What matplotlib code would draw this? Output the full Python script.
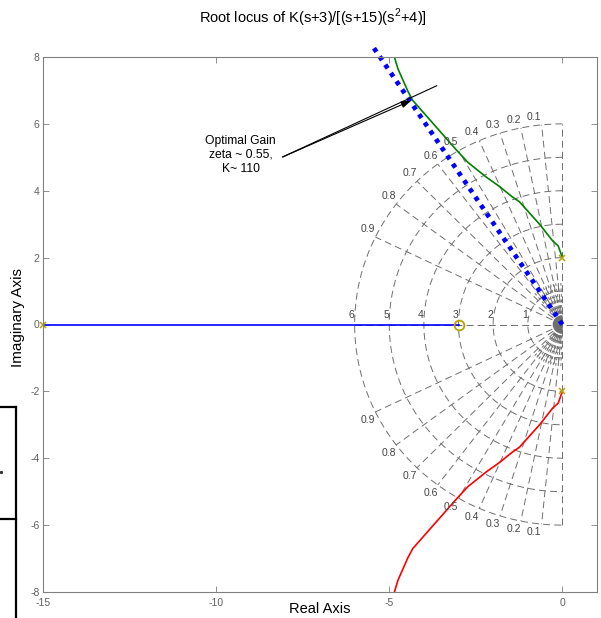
import numpy as np
import matplotlib.pyplot as plt
from matplotlib.lines import Line2D
from matplotlib.patches import Wedge

plt.rcParams['font.family'] = ['Liberation Sans', 'DejaVu Sans']
plt.rcParams['mathtext.fontset'] = 'custom'
plt.rcParams['mathtext.rm'] = 'Liberation Sans'
plt.rcParams['lines.scale_dashes'] = False
plt.rcParams['axes.unicode_minus'] = False

# open-loop poles / zeros
pole_re = [-15, 0, 0]
pole_im = [0, 2, -2]
zero_re = [-3]
zero_im = [0]

# real-axis branch (pole -15 -> zero -3)
real_re = [-15, -3]
real_im = [0, 0]

# complex branch leaving +2j (the -2j branch is its mirror image)
branch_re = [0.0, -0.12, -0.28, -0.66, -1.24, -1.45, -1.82, -2.20, -2.73, -3.07, -4.32, -4.46, -4.75, -4.88]
branch_im = [2.0, 2.35, 2.50, 3.00, 3.67, 3.82, 4.13, 4.41, 4.85, 5.23, 6.70, 6.97, 7.65, 8.10]

# s-plane grid
zeta_vals = [0.1, 0.2, 0.3, 0.4, 0.5, 0.6, 0.7, 0.8, 0.9]
wn_vals = [1, 2, 3, 4, 5, 6]
opt_zeta = 0.55

x_ticks = [-15, -10, -5, 0]
y_ticks = [-8, -6, -4, -2, 0, 2, 4, 6, 8]


def make_plot():
    fig = plt.figure(figsize=(6.01, 6.18), dpi=100)
    ax = fig.add_axes([43/601, 26/618, 554/601, 535/618])
    ax.set_xlim(-15, 1)
    ax.set_ylim(-8, 8)

    gcol = '#6e6e6e'
    dash = (0, (5, 3))
    rmax = max(wn_vals)

    # wn circles (left half only)
    th = np.linspace(np.pi/2, 3*np.pi/2, 300)
    for wn in wn_vals:
        ax.plot(wn*np.cos(th), wn*np.sin(th), color=gcol, lw=0.7, ls=dash)
        ax.text(-wn - 0.08, 0.12, str(wn), ha='center', va='bottom',
                fontsize=7.5, color='#444444')

    # damping lines
    for z in zeta_vals:
        s = np.sqrt(1 - z**2)
        ax.plot([0, -rmax*z], [0, rmax*s], color=gcol, lw=0.7, ls=dash)
        ax.plot([0, -rmax*z], [0, -rmax*s], color=gcol, lw=0.7, ls=dash)
        ax.text(-rmax*z, rmax*s + 0.1, str(z), ha='right', va='bottom',
                fontsize=7.5, color='#444444')
        ax.text(-rmax*z, -rmax*s - 0.1, str(z), ha='right', va='top',
                fontsize=7.5, color='#444444')
    ax.plot([0, 0], [-rmax, rmax], color=gcol, lw=0.7, ls=dash)
    ax.plot([-rmax, 1], [0, 0], color=gcol, lw=0.7, ls=dash)

    # dense fan of grid lines around the origin
    for ang in np.arange(92, 133, 3.5):
        a = np.radians(ang)
        ax.plot([0, 1.3*np.cos(a)], [0, 1.3*np.sin(a)], color=gcol, lw=0.7, ls=(0, (2, 2)))
        ax.plot([0, 1.3*np.cos(a)], [0, -1.3*np.sin(a)], color=gcol, lw=0.7, ls=(0, (2, 2)))
    ax.add_patch(Wedge((0, 0), 0.28, 90, 270, color='#707070', lw=0))

    # loci
    ax.plot(real_re, real_im, color='#0000ff', lw=1.2)
    ax.plot(branch_re, branch_im, color='#008000', lw=1.2)
    ax.plot(branch_re, -np.array(branch_im), color='#ff0000', lw=1.2)

    yel = '#b8a200'
    ax.plot(pole_re, pole_im, 'x', color=yel, ms=5, mew=1.1, clip_on=False)
    ax.plot(zero_re, zero_im, 'o', mfc='none', mec=yel, ms=7, mew=1.3)

    # chosen damping line
    s_opt = np.sqrt(1 - opt_zeta**2)
    r_end = 8.3 / s_opt
    ax.plot([0, -r_end*opt_zeta], [0, r_end*s_opt], color='#0000ff', lw=3.4,
            ls=(0, (3.2, 4.0)), dash_capstyle='butt', clip_on=False)

    # annotation
    ax.plot([-8.08, -3.63], [5.01, 7.14], color='k', lw=0.8)
    ax.annotate('', xy=(-4.36, 6.70), xytext=(-8.08, 5.01),
                arrowprops=dict(arrowstyle='-|>,head_length=0.6,head_width=0.2',
                                color='k', lw=0.8, shrinkA=0, shrinkB=0))
    ax.text(-9.29, 5.07, 'Optimal Gain\nzeta ~ 0.55,\nK~ 110', ha='center',
            va='center', fontsize=8.7)

    ax.set_xticks(x_ticks)
    ax.set_yticks(y_ticks)
    ax.tick_params(direction='in', top=True, right=True, length=4, width=0.6,
                   color='#808080', labelcolor='#606060', labelsize=7.5)
    ax.tick_params(axis='x', pad=4)
    ax.tick_params(axis='y', pad=2.5)
    for sp in ax.spines.values():
        sp.set_color('#808080')
        sp.set_linewidth(0.8)

    ax.set_xlabel('Real Axis', fontsize=10.5)
    ax.xaxis.set_label_coords(0.5, -0.019)
    ax.set_ylabel('Imaginary Axis', fontsize=11)
    ax.yaxis.set_label_coords(-0.033, 0.514)

    fig.text(0.52, 1 - 18/618, 'Root locus of K(s+3)/[(s+15)(s$^2$+4)]',
             ha='center', va='center', fontsize=10.5)

    # stray window frame at the left edge
    for xs, ys in [([0, 16/601], [1 - 407/618]*2),
                   ([16/601]*2, [1 - 407/618, 0]),
                   ([0, 16/601], [1 - 519/618]*2)]:
        fig.add_artist(Line2D(xs, ys, transform=fig.transFigure, color='k', lw=1.6))
    fig.add_artist(Line2D([1/601], [1 - 472/618], transform=fig.transFigure,
                          marker='s', ms=1.2, color='#333333', ls='none'))

    fig.savefig('out.png', dpi=100)
    plt.close(fig)


if __name__ == "__main__":
    make_plot()
